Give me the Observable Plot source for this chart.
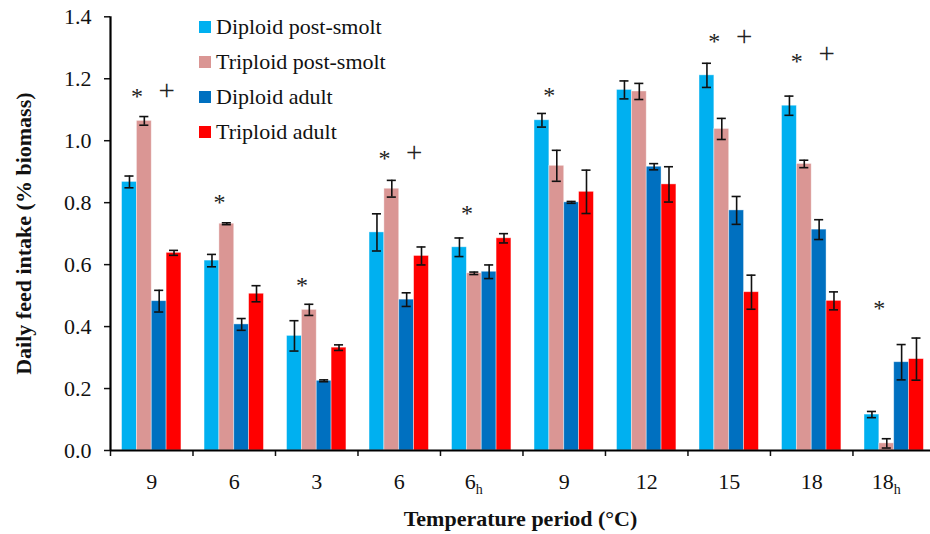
<!DOCTYPE html>
<html>
<head>
<meta charset="utf-8">
<script src="https://cdn.jsdelivr.net/npm/d3@7"></script>
<script src="https://cdn.jsdelivr.net/npm/@observablehq/plot@0.6"></script>
<style>
  html, body { margin: 0; padding: 0; background: #fff; }
  #wrap { position: relative; width: 930px; height: 534px; font-family: "Liberation Serif", "Times New Roman", serif; }
  #legend { position: absolute; left: 199px; top: 9px; font-size: 22px; color: #111; }
  #legend .row { display: flex; align-items: center; height: 35px; line-height: 1; }
  #legend .sw { width: 12px; height: 12px; margin-right: 5px; }
</style>
</head>
<body>
<div id="wrap"><div id="chart"></div><div id="legend"></div></div>
<script>
// ---- data ----
const tickLabels = ["9", "6", "3", "6", "6", "9", "12", "15", "18", "18"];
const tickSubs   = ["", "", "", "", "h", "", "", "", "", "h"];
const series = ["Diploid post-smolt", "Triploid post-smolt", "Diploid adult", "Triploid adult"];
const colors = ["#00B0F0", "#DA9694", "#0070C0", "#FF0000"];

const diploidPostSmolt     = [0.867, 0.613, 0.370, 0.704, 0.656, 1.066, 1.164, 1.211, 1.113, 0.116];
const diploidPostSmoltErr  = [0.019, 0.020, 0.049, 0.060, 0.030, 0.022, 0.029, 0.039, 0.031, 0.010];
const triploidPostSmolt    = [1.064, 0.732, 0.454, 0.845, 0.572, 0.919, 1.159, 1.038, 0.925, 0.023];
const triploidPostSmoltErr = [0.014, 0.003, 0.018, 0.027, 0.004, 0.050, 0.026, 0.034, 0.012, 0.015];
const diploidAdult         = [0.482, 0.407, 0.225, 0.487, 0.577, 0.801, 0.916, 0.775, 0.713, 0.285];
const diploidAdultErr      = [0.035, 0.019, 0.003, 0.022, 0.022, 0.003, 0.010, 0.045, 0.032, 0.057];
const triploidAdult        = [0.638, 0.506, 0.332, 0.628, 0.685, 0.835, 0.859, 0.511, 0.483, 0.295];
const triploidAdultErr     = [0.008, 0.026, 0.009, 0.029, 0.015, 0.070, 0.057, 0.055, 0.029, 0.068];

// significance markers (y position in data units, null = none)
const starY = [1.160, 0.816, 0.549, 0.958, 0.783, 1.164, null, 1.337, 1.272, 0.474];
const plusY = [1.162, null, null, 0.961, null, null, null, 1.337, 1.281, null];

const yTicks = [0, 0.2, 0.4, 0.6, 0.8, 1.0, 1.2, 1.4];
const yLabel = "Daily feed intake (% biomass)";
const xLabel = "Temperature period (°C)";

// ---- build table ----
const values = [diploidPostSmolt, triploidPostSmolt, diploidAdult, triploidAdult];
const errs = [diploidPostSmoltErr, triploidPostSmoltErr, diploidAdultErr, triploidAdultErr];
const BW = 0.18, OFF = 0.14, CAP = 0.055;
const rows = [];
tickLabels.forEach((lab, g) => {
  series.forEach((s, i) => {
    const x1 = g + OFF + i * BW;
    rows.push({g, series: s, value: values[i][g], err: errs[i][g], x1, x2: x1 + BW, xc: x1 + BW / 2});
  });
});
const stars = starY.map((y, g) => ({g, y})).filter(d => d.y != null);
const pluses = plusY.map((y, g) => ({g, y})).filter(d => d.y != null);
const groupTicks = tickLabels.map((l, g) => ({g, label: tickSubs[g] ? l + "_" + tickSubs[g] : l}));

const font = "'Liberation Serif', 'Times New Roman', serif";

const chart = Plot.plot({
  width: 930,
  height: 534,
  marginLeft: 110,
  marginRight: 0,
  marginTop: 16.3,
  marginBottom: 84,
  style: {fontFamily: font, fontSize: "22px", color: "#111", background: "white"},
  x: {domain: [0, 9.94], axis: null},
  y: {domain: [0, 1.4], axis: null},
  color: {domain: series, range: colors},
  marks: [
    Plot.rectY(rows, {x1: "x1", x2: "x2", y: "value", fill: "series", stroke: "white", strokeOpacity: 0.5, strokeWidth: 0.8}),
    Plot.ruleX(rows, {x: "xc", y1: d => d.value - d.err, y2: d => d.value + d.err, stroke: "#111", strokeWidth: 1.6}),
    Plot.ruleY(rows, {y: d => d.value - d.err, x1: d => d.xc - CAP, x2: d => d.xc + CAP, stroke: "#111", strokeWidth: 1.6}),
    Plot.ruleY(rows, {y: d => d.value + d.err, x1: d => d.xc - CAP, x2: d => d.xc + CAP, stroke: "#111", strokeWidth: 1.6}),
    Plot.text(stars, {x: d => d.g + OFF + BW, y: "y", text: () => "*", fontSize: 24, lineAnchor: "middle", dy: 5, fill: "#222"}),
    Plot.text(pluses, {x: d => d.g + OFF + 3 * BW, y: "y", text: () => "+", fontSize: 29, lineAnchor: "middle", fill: "#222"}),
    Plot.axisY({ticks: yTicks, tickFormat: d3.format(".1f"), tickSize: 6, tickPadding: 13, fontSize: 22, strokeWidth: 1.5, label: null}),
    Plot.axisX({ticks: d3.range(0, 10), tickSize: 6, tickFormat: () => "", strokeWidth: 1.5, label: null}),
    Plot.ruleY([0], {stroke: "#000", strokeWidth: 2.2}),
    Plot.ruleX([0], {stroke: "#000", strokeWidth: 2.2}),
    Plot.text(groupTicks, {x: d => d.g + 0.5, y: () => 0, text: "label", dy: 31, lineAnchor: "middle", fontSize: 22, fill: "#111", className: "grouplabel"}),
    Plot.text([xLabel], {frameAnchor: "bottom", dy: 68, lineAnchor: "middle", fontWeight: "bold", fontSize: 22, fill: "#111"}),
    Plot.text([yLabel], {frameAnchor: "left", textAnchor: "middle", rotate: -90, dx: -87, fontWeight: "bold", fontSize: 22, fill: "#111"})
  ]
});
document.getElementById("chart").appendChild(chart);

// subscripts for labels like "6_h"
chart.querySelectorAll(".grouplabel text").forEach(t => {
  const s = t.textContent;
  if (s.includes("_")) {
    const [main, sub] = s.split("_");
    t.textContent = "";
    const a = document.createElementNS("http://www.w3.org/2000/svg", "tspan");
    a.textContent = main;
    const b = document.createElementNS("http://www.w3.org/2000/svg", "tspan");
    b.textContent = sub;
    b.setAttribute("font-size", "14");
    b.setAttribute("dy", "5");
    t.appendChild(a); t.appendChild(b);
    t.setAttribute("dx", "-8");
  }
});

// legend
const legend = document.getElementById("legend");
series.forEach((s, i) => {
  const row = document.createElement("div");
  row.className = "row";
  row.innerHTML = `<span class="sw" style="background:${colors[i]}"></span><span>${s}</span>`;
  legend.appendChild(row);
});
</script>
</body>
</html>
